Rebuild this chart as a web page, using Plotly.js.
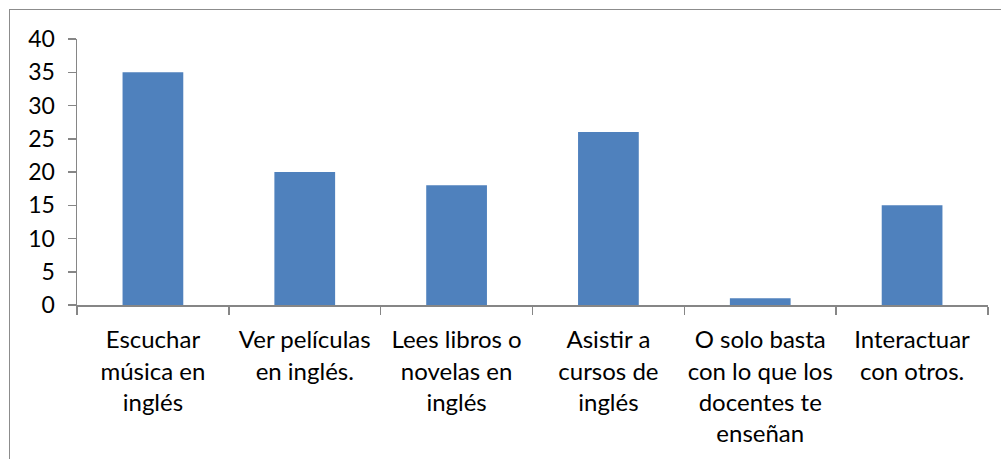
<!DOCTYPE html>
<html>
<head>
<meta charset="utf-8">
<script src="https://cdn.plot.ly/plotly-3.0.1.min.js"></script>
<style>
html,body{margin:0;padding:0;background:#fff;}
#frame{position:absolute;left:9px;top:9px;width:1100px;height:600px;border-left:1.5px solid #8c8c8c;border-top:1.5px solid #8c8c8c;pointer-events:none;}
#chart{position:absolute;left:0;top:0;width:1001px;height:459px;}
</style>
</head>
<body>
<div id="chart"></div>
<div id="frame"></div>
<script>
const categories = [
  "Escuchar<br>música en<br>inglés",
  "Ver películas<br>en inglés.",
  "Lees libros o<br>novelas en<br>inglés",
  "Asistir a<br>cursos de<br>inglés",
  "O solo basta<br>con lo que los<br>docentes te<br>enseñan",
  "Interactuar<br>con otros."
];
const values = [35, 20, 18, 26, 1, 15];
const yTicks = [0, 5, 10, 15, 20, 25, 30, 35, 40];

const trace = {
  type: "bar",
  x: categories,
  y: values,
  marker: {color: "#4F81BD", line: {width: 0}},
  hoverinfo: "none"
};

const layout = {
  width: 1001,
  height: 459,
  margin: {l: 77, r: 13, t: 39, b: 154},
  paper_bgcolor: "rgba(0,0,0,0)",
  plot_bgcolor: "#fff",
  bargap: 0.6,
  showlegend: false,
  font: {family: "Lato, 'Open Sans', sans-serif", size: 23, color: "#000"},
  xaxis: {
    type: "category",
    showline: true,
    linecolor: "#868686",
    linewidth: 1.5,
    ticks: "outside",
    ticklen: 8,
    tickcolor: "#868686",
    tickwidth: 1.5,
    tickson: "boundaries",
    showgrid: false,
    tickangle: 0,
    ticklabelstandoff: 13,
    tickfont: {size: 24}
  },
  yaxis: {
    range: [0, 40],
    tickvals: yTicks,
    showline: true,
    linecolor: "#868686",
    linewidth: 1.5,
    ticks: "outside",
    ticklen: 8,
    tickcolor: "#868686",
    tickwidth: 1.5,
    showgrid: false,
    zeroline: false,
    ticklabelstandoff: 8,
    tickfont: {size: 23}
  }
};

Plotly.newPlot("chart", [trace], layout, {staticPlot: true});
</script>
</body>
</html>
